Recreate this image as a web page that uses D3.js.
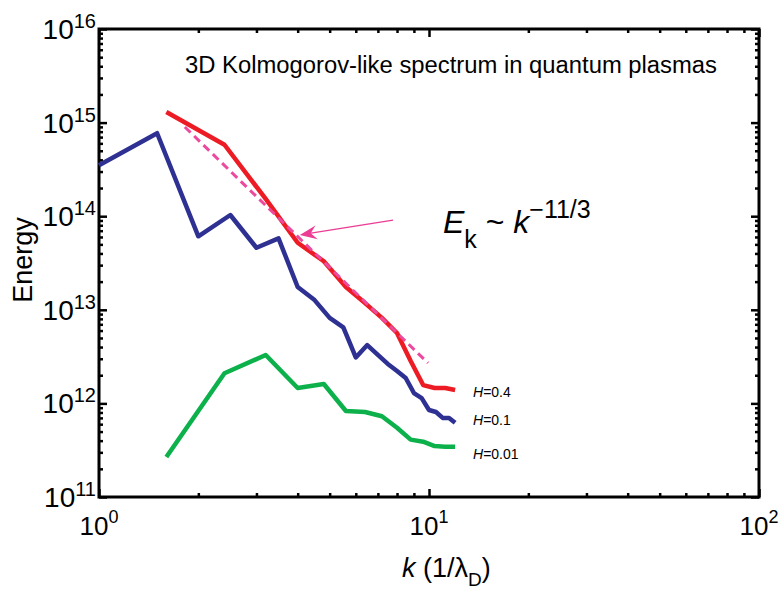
<!DOCTYPE html>
<html>
<head>
<meta charset="utf-8">
<script src="https://cdn.jsdelivr.net/npm/d3@7"></script>
<style>
  body { margin: 0; background: #fff; }
  svg { font-family: "Liberation Sans", Arial, sans-serif; }
</style>
</head>
<body>
<svg width="782" height="595"></svg>
<script>
// Wavenumbers and energies
const kBlue = [1, 1.5, 2, 2.5, 3, 3.5, 4, 4.5, 5, 5.5, 6, 6.5, 7, 7.5, 8, 8.5, 9, 9.5, 10, 10.5, 11, 11.5, 12];
const eBlue = [3.5e14, 7.7e14, 6.1e13, 1.03e14, 4.6e13, 5.8e13, 1.75e13, 1.27e13, 8.2e12, 6.5e12, 3.1e12, 4.2e12,
               3.3e12, 2.64e12, 2.22e12, 1.87e12, 1.29e12, 1.14e12, 8.5e11, 8.1e11, 7.0e11, 7.0e11, 6.2e11];

const kRG = [1.6, 2.4, 3.2, 4.0, 4.8, 5.6, 6.4, 7.2, 8.0, 8.8, 9.6, 10.4, 11.2, 12.0];
const eRed = [1.3e15, 5.8e14, 1.53e14, 5.2e13, 3.3e13, 1.75e13, 1.18e13, 8.2e12, 5.65e12, 2.84e12, 1.57e12, 1.46e12, 1.46e12, 1.39e12];
const eGreen = [2.67e11, 2.1e12, 3.29e12, 1.46e12, 1.61e12, 8.3e11, 8.1e11, 7.3e11, 5.5e11, 4.1e11, 3.9e11, 3.5e11, 3.45e11, 3.45e11];

// k^-11/3 guide line and the arrow pointing at it
const kFit = [1.82, 9.93];
const eFit = [8.98e14, 2.7e12];
const kArrow = [7.78, 4.06];
const eArrow = [9.1e13, 6.3e13];

const seriesLabels = ["0.4", "0.1", "0.01"];
const xMajor = [1, 10, 100];
const yMajor = [1e11, 1e12, 1e13, 1e14, 1e15, 1e16];

// Plot box
const plotL = 99, plotR = 759, plotT = 29, plotB = 497;
const svg = d3.select("svg");

const x = d3.scaleLog().domain([1, 100]).range([plotL, plotR]);
const y = d3.scaleLog().domain([1e11, 1e16]).range([plotB, plotT]);

// minor ticks 2..9 in each decade
const xMinor = [];
[1, 10].forEach(d => { for (let i = 2; i <= 9; i++) xMinor.push(d * i); });
const yMinor = [];
[1e11, 1e12, 1e13, 1e14, 1e15].forEach(d => { for (let i = 2; i <= 9; i++) yMinor.push(d * i); });

function tickAxis(axis, values, size) {
  return axis.tickValues(values).tickSize(size).tickSizeOuter(0).tickFormat("");
}

const axes = [
  [() => d3.axisBottom(x), `translate(0,${plotB})`, xMajor, xMinor],
  [() => d3.axisTop(x), `translate(0,${plotT})`, xMajor, xMinor],
  [() => d3.axisLeft(y), `translate(${plotL},0)`, yMajor, yMinor],
  [() => d3.axisRight(y), `translate(${plotR},0)`, yMajor, yMinor]
];
axes.forEach(([make, tr, major, minor]) => {
  svg.append("g").attr("transform", tr).call(tickAxis(make(), major, -8));
  svg.append("g").attr("transform", tr).call(tickAxis(make(), minor, -4));
});
svg.selectAll(".domain").remove();
svg.selectAll(".tick line").attr("stroke", "#000").attr("stroke-width", 2.5);

// frame
svg.append("rect")
    .attr("x", plotL).attr("y", plotT)
    .attr("width", plotR - plotL).attr("height", plotB - plotT)
    .attr("fill", "none").attr("stroke", "#000").attr("stroke-width", 3);

// tick labels as 10 with superscript exponent
const xLab = svg.append("g").selectAll("text").data(xMajor).enter().append("text")
    .attr("x", d => x(d)).attr("y", plotB + 38)
    .attr("text-anchor", "middle").style("font-size", "26px");
xLab.append("tspan").text("10");
xLab.append("tspan").attr("dy", -12).style("font-size", "18px").text(d => Math.round(Math.log10(d)));

const yLab = svg.append("g").selectAll("text").data(yMajor).enter().append("text")
    .attr("x", plotL - 3).attr("y", d => y(d) + 10)
    .attr("text-anchor", "end").style("font-size", "28px");
yLab.append("tspan").text("10");
yLab.append("tspan").attr("dy", -11).style("font-size", "20px").text(d => Math.round(Math.log10(d)));

// data lines
const line = d3.line().x(d => x(d[0])).y(d => y(d[1]));
const series = [
  { k: kRG, e: eRed, color: "#ED1C24" },
  { k: kBlue, e: eBlue, color: "#2E3192" },
  { k: kRG, e: eGreen, color: "#0DB14B" }
];
series.forEach(s => {
  svg.append("path")
      .datum(d3.zip(s.k, s.e))
      .attr("d", line)
      .attr("fill", "none")
      .attr("stroke", s.color)
      .attr("stroke-width", 4.5)
      .attr("stroke-linejoin", "round");
});

// dashed k^-11/3 guide
svg.append("path")
    .datum(d3.zip(kFit, eFit))
    .attr("d", line)
    .attr("fill", "none")
    .attr("stroke", "#EC4A9E")
    .attr("stroke-width", 3)
    .attr("stroke-dasharray", "8,5");

// arrow
const ax0 = x(kArrow[0]), ay0 = y(eArrow[0]), ax1 = x(kArrow[1]), ay1 = y(eArrow[1]);
svg.append("line")
    .attr("x1", ax0).attr("y1", ay0).attr("x2", ax1 + 8).attr("y2", ay1 - 1.3)
    .attr("stroke", "#EC3C94").attr("stroke-width", 1.2);
const ang = Math.atan2(ay1 - ay0, ax1 - ax0) * 180 / Math.PI;
svg.append("path")
    .attr("d", "M0,0 L-17,-7 L-11,0 L-17,7 Z")
    .attr("transform", `translate(${ax1},${ay1}) rotate(${ang})`)
    .attr("fill", "#EC3C94");

// title
svg.append("text")
    .text("3D Kolmogorov-like spectrum in quantum plasmas")
    .attr("x", 185).attr("y", 73)
    .attr("textLength", 532)
    .attr("lengthAdjust", "spacingAndGlyphs")
    .style("font-size", "23px");

// scaling law
const law = svg.append("text").attr("x", 443).attr("y", 233).style("font-size", "32px");
law.append("tspan").style("font-style", "italic").text("E");
law.append("tspan").attr("dy", 15).style("font-size", "25px").text("k");
law.append("tspan").attr("dy", -15).text(" ~ ");
law.append("tspan").style("font-style", "italic").text("k");
law.append("tspan").attr("dy", -15).style("font-size", "25px").text("\u221211/3");

// series labels
const labY = [397, 425, 459];
seriesLabels.forEach((v, i) => {
  const t = svg.append("text").attr("x", 473).attr("y", labY[i]).style("font-size", "14px");
  t.append("tspan").style("font-style", "italic").text("H");
  t.append("tspan").text("=" + v);
});

// axis titles
svg.append("text")
    .text("Energy")
    .attr("transform", "translate(32,260) rotate(-90)")
    .attr("text-anchor", "middle")
    .style("font-size", "27px");

const xt = svg.append("text").attr("x", 402).attr("y", 577).style("font-size", "27px");
xt.append("tspan").style("font-style", "italic").text("k");
xt.append("tspan").text(" (1/\u03bb");
xt.append("tspan").attr("dy", 9).style("font-size", "19px").text("D");
xt.append("tspan").attr("dy", -9).text(")");
</script>
</body>
</html>
